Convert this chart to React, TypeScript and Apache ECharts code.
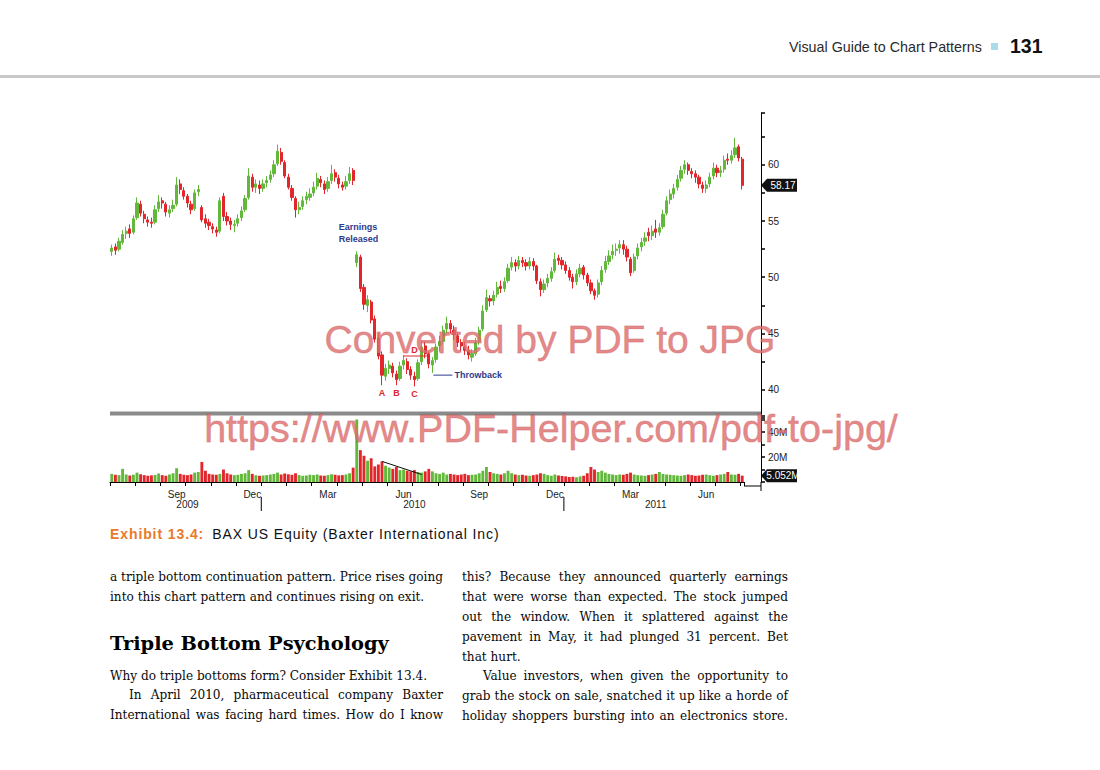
import React, { useEffect, useRef } from "react";
import * as echarts from "echarts";

// ---------- chart data ----------
// one candle per ~3 trading days, 7 candles per month, Jul 2009 .. early Aug 2011
const monthKeys = [
  "2009-07", "2009-08", "2009-09", "2009-10", "2009-11", "2009-12",
  "2010-01", "2010-02", "2010-03", "2010-04", "2010-05", "2010-06",
  "2010-07", "2010-08", "2010-09", "2010-10", "2010-11", "2010-12",
  "2011-01", "2011-02", "2011-03", "2011-04", "2011-05", "2011-06",
  "2011-07", "2011-08",
];
const monthShort = ["Jan", "Feb", "Mar", "Apr", "May", "Jun", "Jul", "Aug", "Sep", "Oct", "Nov", "Dec"];
const labelledMonths = ["Sep", "Dec", "Mar", "Jun"];
const CANDLES_PER_MONTH = 7;

// [open, close, low, high]
const ohlc2009 = [
  [52.3, 52.6, 51.9, 52.9], [52.7, 52.4, 52.0, 53.0], [52.5, 53.2, 52.3, 53.5], [53.1, 53.8, 52.9, 54.2],
  [53.9, 54.1, 53.4, 54.5], [54.3, 53.9, 53.5, 54.7], [54.0, 55.2, 53.8, 55.5], [55.3, 56.6, 55.1, 57.1],
  [56.5, 55.7, 55.4, 56.8], [55.6, 55.2, 54.8, 55.9], [55.1, 54.9, 54.5, 55.4], [54.9, 54.8, 54.4, 55.3],
  [54.9, 56.0, 54.7, 56.4], [56.1, 56.7, 55.8, 57.3], [56.8, 56.6, 56.1, 57.1], [56.5, 55.8, 55.4, 56.7],
  [55.7, 56.0, 55.3, 56.4], [56.1, 56.4, 55.8, 56.9], [56.5, 58.2, 56.3, 58.9], [58.3, 57.8, 57.4, 58.7],
  [57.7, 57.2, 56.9, 58.0], [57.2, 56.6, 56.2, 57.4], [56.5, 56.0, 55.6, 56.8], [56.1, 57.5, 55.9, 57.8],
  [57.6, 57.8, 57.2, 58.2], [56.2, 55.1, 54.9, 56.4], [55.2, 54.8, 54.4, 55.6], [54.9, 54.6, 54.2, 55.2],
  [54.5, 54.3, 53.9, 54.8], [54.2, 54.0, 53.6, 54.5], [54.1, 56.8, 53.9, 57.1], [57.2, 55.4, 55.0, 57.5],
  [55.4, 55.0, 54.6, 55.8], [55.0, 54.7, 54.2, 55.3], [54.6, 54.7, 54.0, 55.1], [54.8, 55.2, 54.5, 55.6],
  [55.3, 55.9, 55.0, 56.3], [56.0, 57.0, 55.8, 57.3], [57.1, 59.0, 56.9, 59.7], [58.9, 58.0, 57.6, 59.2],
  [58.0, 58.3, 57.5, 58.7], [58.2, 57.9, 57.4, 58.6],
];
const ohlc2010 = [
  [57.9, 58.3, 57.6, 58.7], [58.4, 58.6, 58.0, 59.0], [58.7, 59.1, 58.4, 59.5], [59.2, 60.0, 58.9, 60.4],
  [60.1, 61.2, 59.9, 61.8], [61.1, 60.3, 60.0, 61.5], [60.2, 59.0, 58.8, 60.4], [58.9, 58.0, 57.8, 59.2],
  [57.9, 57.1, 56.8, 58.2], [57.0, 56.0, 55.3, 57.2], [56.0, 56.2, 55.6, 56.7], [56.3, 56.8, 56.0, 57.2],
  [56.9, 57.2, 56.5, 57.6], [57.1, 57.4, 56.8, 57.9], [57.5, 58.0, 57.2, 58.5], [58.1, 58.8, 57.8, 59.3],
  [58.7, 58.4, 58.0, 59.0], [58.3, 57.8, 57.4, 58.6], [57.9, 58.5, 57.6, 58.9], [58.6, 59.2, 58.3, 60.0],
  [59.3, 58.9, 58.5, 59.6], [58.8, 58.3, 57.9, 59.1], [58.2, 58.0, 57.7, 58.5], [58.1, 58.5, 57.8, 59.0],
  [58.6, 59.2, 58.3, 59.8], [59.5, 58.6, 58.2, 59.7], [51.3, 52.0, 50.9, 52.3], [51.8, 49.0, 48.7, 52.0],
  [49.1, 47.6, 47.1, 49.4], [47.5, 48.0, 46.9, 48.4], [47.8, 46.2, 45.9, 48.0], [46.3, 44.5, 44.2, 46.6],
  [44.6, 43.0, 42.7, 45.0], [43.1, 41.3, 40.4, 43.4], [41.2, 41.9, 40.8, 42.3], [41.9, 42.2, 41.4, 42.6],
  [42.1, 41.5, 41.1, 42.4], [41.4, 40.9, 40.4, 41.7], [41.0, 42.1, 40.8, 42.5], [42.2, 42.6, 41.8, 43.1],
  [42.5, 41.8, 41.4, 42.8], [41.8, 41.3, 40.9, 42.1], [41.2, 40.9, 40.3, 41.6], [41.0, 42.4, 40.8, 42.7],
  [42.5, 43.8, 42.2, 44.4], [43.9, 43.2, 42.8, 44.3], [43.2, 42.3, 41.9, 43.4], [42.2, 42.6, 41.5, 42.9],
  [42.7, 43.8, 42.4, 44.1], [43.9, 44.3, 43.4, 44.8], [44.3, 45.3, 44.0, 45.7], [45.4, 45.9, 45.0, 46.5],
  [45.9, 45.4, 45.0, 46.2], [45.3, 44.9, 44.4, 45.7], [44.8, 44.2, 43.8, 45.1], [44.2, 43.9, 43.4, 44.5],
  [43.8, 43.5, 43.1, 44.3], [43.5, 43.1, 42.7, 43.9], [42.9, 43.2, 42.5, 43.6], [43.2, 44.2, 43.0, 44.6],
  [44.3, 45.3, 44.0, 45.6], [45.4, 47.0, 45.2, 47.5], [47.1, 48.2, 46.9, 48.9], [48.1, 47.9, 47.4, 48.4],
  [47.9, 48.4, 47.5, 48.8], [48.5, 49.1, 48.2, 49.6], [49.2, 49.0, 48.6, 49.7], [49.0, 49.6, 48.7, 50.0],
  [49.7, 50.8, 49.5, 51.2], [50.9, 51.3, 50.6, 51.8], [51.3, 51.0, 50.5, 51.6], [51.0, 51.5, 50.7, 51.9],
  [51.5, 51.3, 50.9, 51.8], [51.3, 51.0, 50.6, 51.6], [51.0, 51.4, 50.7, 51.8], [51.4, 51.0, 50.6, 51.7],
  [51.0, 49.7, 49.4, 51.1], [49.6, 48.9, 48.3, 49.9], [48.9, 49.4, 48.6, 49.8], [49.5, 49.9, 49.1, 50.3],
  [49.9, 50.5, 49.6, 50.9], [50.6, 51.6, 50.4, 52.2], [51.7, 51.5, 51.1, 52.0], [51.5, 51.1, 50.7, 51.8],
];
const ohlc2011 = [
  [51.1, 50.6, 50.3, 51.4], [50.6, 50.0, 49.7, 50.9], [50.0, 49.6, 49.0, 50.3], [49.6, 50.3, 49.3, 50.7],
  [50.3, 50.8, 50.0, 51.2], [50.9, 50.2, 49.8, 51.1], [50.2, 49.5, 49.2, 50.4], [49.5, 48.8, 48.5, 49.8],
  [48.8, 48.4, 48.0, 49.0], [48.5, 49.5, 48.2, 49.8], [49.6, 50.6, 49.3, 51.0], [50.7, 51.4, 50.4, 51.9],
  [51.4, 51.9, 51.1, 52.4], [52.0, 52.3, 51.6, 52.9], [52.4, 52.5, 51.9, 53.0], [52.6, 52.9, 52.1, 53.3],
  [52.9, 52.5, 52.0, 53.3], [52.5, 51.8, 51.4, 52.8], [51.6, 50.4, 50.1, 51.8], [50.6, 51.8, 50.4, 52.1],
  [51.9, 52.6, 51.6, 53.0], [52.7, 53.1, 52.3, 53.5], [53.2, 53.5, 52.8, 54.0], [54.0, 53.7, 53.2, 54.4],
  [53.7, 54.1, 53.3, 54.6], [54.3, 54.0, 53.5, 55.1], [54.0, 54.4, 53.7, 54.8], [54.5, 55.6, 54.3, 56.0],
  [55.7, 56.8, 55.5, 57.2], [56.9, 57.4, 56.5, 57.8], [57.4, 57.9, 57.0, 58.3], [58.0, 58.7, 57.7, 59.1],
  [58.8, 59.5, 58.5, 59.9], [59.6, 60.0, 59.2, 60.4], [60.0, 59.5, 59.1, 60.2], [59.4, 59.2, 58.8, 59.7],
  [59.2, 58.9, 58.4, 59.5], [58.9, 58.3, 57.9, 59.1], [58.2, 57.9, 57.5, 58.5], [57.9, 58.2, 57.5, 58.6],
  [58.3, 58.9, 58.0, 59.3], [59.0, 59.7, 58.7, 60.2], [59.7, 59.3, 58.9, 60.0], [59.3, 59.5, 58.9, 59.9],
  [59.6, 60.4, 59.3, 60.8], [60.5, 60.4, 60.0, 61.0], [60.4, 60.8, 60.1, 61.3], [60.9, 61.5, 60.6, 62.4],
  [61.6, 60.6, 60.3, 61.8], [60.5, 58.17, 57.8, 60.7],
];

// volume, millions of shares
const vol2009 = [
  6.5, 5.8, 5.5, 10.5, 6.0, 5.2, 5.8, 7.5, 6.2, 5.5, 5.0, 5.3, 5.6, 6.8, 5.5, 5.0, 6.0, 7.0, 11.0, 6.5, 5.8,
  5.5, 6.0, 7.5, 8.0, 16.0, 9.0, 6.5, 6.0, 5.8, 6.5, 10.0, 7.0, 6.0, 5.5, 5.8, 6.5, 7.0, 9.5, 6.5, 5.5, 5.0,
];
const vol2010 = [
  5.2, 5.5, 6.0, 6.5, 7.5, 6.0, 6.8, 6.2, 5.8, 7.0,
  5.5, 5.0, 5.2, 5.8, 5.5, 6.0, 5.2, 5.0, 5.5, 6.2,
  5.8, 5.3, 5.5, 6.0, 7.0, 11.5, 50.0, 25.5, 21.0, 17.0,
  19.0, 12.5, 14.0, 16.5, 13.0, 11.5, 10.5, 12.0, 9.5, 10.0,
  9.0, 8.5, 9.5, 8.0, 7.5, 8.5, 10.5, 8.5, 7.0, 6.5,
  7.5, 6.0, 6.5, 6.0, 5.5, 6.0, 6.5, 5.5, 5.8, 6.0,
  7.0, 9.0, 12.0, 8.0, 7.0, 6.5, 6.0, 7.0, 9.0, 7.0,
  6.0, 5.5, 5.8, 5.2, 5.0, 5.5, 6.0, 7.0, 6.5, 5.5,
  5.0, 6.0, 5.2, 4.8,
];
const vol2011 = [
  4.5, 4.0, 4.2, 3.8, 4.5, 5.0, 7.0, 12.0, 10.0, 8.0,
  9.0, 7.5, 6.5, 6.0, 5.5, 6.0, 5.8, 6.5, 7.5, 6.0,
  5.5, 5.2, 5.0, 5.5, 6.0, 6.5, 8.0, 6.5, 6.0, 5.8,
  5.5, 5.2, 5.0, 5.5, 6.0, 5.5, 5.0, 5.2, 5.8, 6.0,
  5.5, 5.0, 5.5, 6.0, 6.5, 8.0, 6.0, 5.8, 6.5, 5.052,
];

const lastPrice = 58.17;
const lastVolumeLabel = "5.052M";
const priceLabels = [40, 45, 50, 55, 60];
const volumeLabels = [20, 40];

// ---------- page text ----------
const headerTitle = "Visual Guide to Chart Patterns";
const pageNumber = "131";
const captionLabel = "Exhibit 13.4:";
const captionText = "BAX US Equity (Baxter International Inc)";
const heading = "Triple Bottom Psychology";
const leftLines = [
  "a triple bottom continuation pattern. Price rises going",
  "into this chart pattern and continues rising on exit.",
];
const leftLines2 = [
  "Why do triple bottoms form? Consider Exhibit 13.4.",
  "In April 2010, pharmaceutical company Baxter",
  "International was facing hard times. How do I know",
];
const rightLines = [
  "this? Because they announced quarterly earnings",
  "that were worse than expected. The stock jumped",
  "out the window. When it splattered against the",
  "pavement in May, it had plunged 31 percent. Bet",
  "that hurt.",
  "Value investors, when given the opportunity to",
  "grab the stock on sale, snatched it up like a horde of",
  "holiday shoppers bursting into an electronics store.",
];

const GREEN = "#62b83a";
const RED = "#e2262b";
const NAVY = "#2d3a8c";
const ANN_RED = "#e0262c";
const SANS = "Liberation Sans, Arial, sans-serif";
const SERIF = "DejaVu Serif, serif";

type Line = { text: string; x: number; y: number; w: number; justify: boolean; indent?: number };

const bodyLayout: Line[] = [
  { text: leftLines[0], x: 110, y: 577, w: 333, justify: true },
  { text: leftLines[1], x: 110, y: 597, w: 333, justify: false },
  { text: leftLines2[0], x: 110, y: 676, w: 333, justify: false },
  { text: leftLines2[1], x: 110, y: 695, w: 333, justify: true, indent: 19 },
  { text: leftLines2[2], x: 110, y: 715, w: 333, justify: true },
  { text: rightLines[0], x: 462, y: 577, w: 326, justify: true },
  { text: rightLines[1], x: 462, y: 597, w: 326, justify: true },
  { text: rightLines[2], x: 462, y: 617, w: 326, justify: true },
  { text: rightLines[3], x: 462, y: 637, w: 326, justify: true },
  { text: rightLines[4], x: 462, y: 657, w: 326, justify: false },
  { text: rightLines[5], x: 462, y: 676, w: 326, justify: true, indent: 21 },
  { text: rightLines[6], x: 462, y: 696, w: 326, justify: true },
  { text: rightLines[7], x: 462, y: 716, w: 326, justify: true },
];

export default function App() {
  const ref = useRef<HTMLDivElement>(null);

  useEffect(() => {
    document.body.style.margin = "0";
    if (!ref.current) return;
    const chart = echarts.init(ref.current, undefined, { renderer: "svg" });

    const ohlc = [...ohlc2009, ...ohlc2010, ...ohlc2011];
    const volumes = [...vol2009, ...vol2010, ...vol2011];
    const categories = ohlc.map((_, i) => monthKeys[Math.floor(i / CANDLES_PER_MONTH)] + "#" + (i % CANDLES_PER_MONTH));
    const monthOf = (i: number) => monthKeys[Math.floor(i / CANDLES_PER_MONTH)];
    const monthName = (i: number) => monthShort[parseInt(monthOf(i).slice(5), 10) - 1];
    const yearOf = (i: number) => monthOf(i).slice(0, 4);

    // year label at the centre of each year's visible span
    const yearCentres: Record<number, string> = {};
    const years = Array.from(new Set(ohlc.map((_, i) => yearOf(i))));
    years.forEach((y) => {
      const idx = ohlc.map((_, i) => i).filter((i) => yearOf(i) === y);
      yearCentres[Math.round((idx[0] + idx[idx.length - 1]) / 2)] = y;
    });

    const volumeData = volumes.map((v, i) => ({
      value: v,
      itemStyle: { color: ohlc[i][1] >= ohlc[i][0] ? GREEN : RED },
    }));

    const axisFont = { color: "#222", fontSize: 10, fontFamily: SANS };

    chart.setOption({
      animation: false,
      backgroundColor: "transparent",
      grid: [
        { left: 110, top: 113, width: 634, height: (64.6 - 37.5) * 11.25 },
        { left: 110, top: 416, width: 634, height: 66 },
      ],
      xAxis: [
        { type: "category", gridIndex: 0, data: categories, show: false },
        {
          type: "category",
          gridIndex: 1,
          position: "bottom",
          data: categories,
          offset: 4,
          axisLine: { show: true, lineStyle: { color: "#000", width: 1 } },
          axisTick: {
            show: true,
            interval: (i: number) => i % CANDLES_PER_MONTH === 0,
            length: 4,
            lineStyle: { color: "#000" },
          },
          axisLabel: {
            interval: (i: number) => i % CANDLES_PER_MONTH === 4 && labelledMonths.includes(monthName(i)),
            formatter: (_v: string, i: number) => monthName(i),
            margin: 3,
            ...axisFont,
          },
        },
        {
          type: "category",
          gridIndex: 1,
          position: "bottom",
          data: categories,
          offset: 15,
          axisLine: { show: true, lineStyle: { color: "#000", opacity: 0 } },
          axisTick: { show: false },
          axisLabel: {
            interval: (i: number) => yearCentres[i] !== undefined,
            formatter: (_v: string, i: number) => yearCentres[i] || "",
            margin: 2,
            ...axisFont,
          },
        },
      ],
      yAxis: [
        {
          type: "value",
          gridIndex: 0,
          position: "right",
          offset: 17,
          min: 37.5,
          max: 64.6,
          interval: 2.5,
          splitLine: { show: false },
          axisLine: { show: true, lineStyle: { color: "#000" } },
          axisTick: { show: true, length: 4, lineStyle: { color: "#000", width: 1.5 } },
          axisLabel: {
            formatter: (v: number) => (priceLabels.includes(v) ? String(v) : ""),
            margin: 7,
            ...axisFont,
          },
        },
        {
          type: "value",
          gridIndex: 1,
          position: "right",
          offset: 17,
          min: 0,
          max: 52.8,
          interval: 10,
          splitLine: { show: false },
          axisLine: { show: true, lineStyle: { color: "#000" } },
          axisTick: { show: true, length: 4, lineStyle: { color: "#000", width: 1.5 } },
          axisLabel: {
            formatter: (v: number) => (volumeLabels.includes(v) ? v + "M" : ""),
            margin: 7,
            ...axisFont,
          },
        },
      ],
      series: [
        {
          type: "candlestick",
          xAxisIndex: 0,
          yAxisIndex: 0,
          data: ohlc,
          barWidth: "75%",
          itemStyle: { color: GREEN, color0: RED, borderColor: GREEN, borderColor0: RED, borderWidth: 1 },
        },
        {
          type: "bar",
          xAxisIndex: 1,
          yAxisIndex: 1,
          data: volumeData,
          barWidth: "80%",
        },
      ],
    });

    const P = (i: number, v: number) => chart.convertToPixel({ seriesIndex: 0 }, [i, v]) as number[];
    const V = (i: number, v: number) => chart.convertToPixel({ seriesIndex: 1 }, [i, v]) as number[];
    const last = ohlc.length - 1;
    const lowOf = (i: number) => ohlc[i][2];

    const annText = (x: number, y: number, text: string, fill: string, align = "center") => ({
      type: "text",
      x,
      y,
      z: 50,
      style: {
        text,
        fill,
        fontFamily: SANS,
        fontWeight: "bold",
        fontSize: 9,
        textAlign: align,
        textVerticalAlign: "middle",
      },
    });

    const tag = (y: number, text: string, w: number) => ({
      type: "group",
      z: 60,
      children: [
        {
          type: "polygon",
          shape: { points: [[761, y], [767, y - 6.5], [761 + w, y - 6.5], [761 + w, y + 6.5], [767, y + 6.5]] },
          style: { fill: "#111" },
        },
        {
          type: "text",
          x: 765 + w / 2,
          y,
          style: { text, fill: "#fff", fontFamily: SANS, fontSize: 10, textAlign: "center", textVerticalAlign: "middle" },
        },
      ],
    });

    const earn1 = P(63, 54.5);
    const earn2 = P(63, 53.4);
    const pA = P(75, lowOf(75));
    const pB = P(79, lowOf(79));
    const pC = P(84, lowOf(84));
    const pD = P(84, 43.55);
    const dL = P(81, 43.0);
    const dR = P(88, 43.0);
    const tb = P(89, 41.3);
    const vt1 = V(75, 16.5);
    const vt2 = V(86, 6.0);
    const priceTagY = P(last, lastPrice)[1];
    const volTagY = V(last, volumes[last])[1];

    // year separators (below the month labels), at the first candle of each new year
    const yearSeps = ohlc
      .map((_, i) => i)
      .filter((i) => i > 0 && i % CANDLES_PER_MONTH === 0 && monthOf(i).endsWith("-01"))
      .map((i) => {
        const x = (P(i - 1, 50)[0] + P(i, 50)[0]) / 2;
        return { type: "line", shape: { x1: x, y1: 497, x2: x, y2: 511 }, style: { stroke: "#000", lineWidth: 1 } };
      });

    chart.setOption({
      graphic: [
        // page header
        { type: "text", x: 789, y: 47, style: { text: headerTitle, fill: "#2a2a2a", fontFamily: SANS, fontSize: 14.3, textVerticalAlign: "middle" } },
        { type: "rect", shape: { x: 991, y: 43, width: 7, height: 7 }, style: { fill: "#a9dbea" } },
        { type: "text", x: 1010, y: 46, style: { text: pageNumber, fill: "#111", fontFamily: SANS, fontWeight: "bold", fontSize: 19.5, textVerticalAlign: "middle" } },
        { type: "rect", shape: { x: 0, y: 75, width: 1100, height: 3 }, style: { fill: "#c8c8c8" } },
        // pane separator and axis extensions
        { type: "rect", z: 40, shape: { x: 110, y: 411.5, width: 651, height: 4 }, style: { fill: "#8a8a8a" } },
        { type: "line", shape: { x1: 761, y1: 482, x2: 761, y2: 491 }, style: { stroke: "#000", lineWidth: 1 } },
        { type: "line", shape: { x1: 744, y1: 486, x2: 761, y2: 486 }, style: { stroke: "#000", lineWidth: 1 } },
        ...yearSeps,
        // annotations
        annText(earn1[0], earn1[1], "Earnings", NAVY, "left"),
        annText(earn2[0], earn2[1], "Released", NAVY, "left"),
        annText(pA[0], pA[1] + 8, "A", ANN_RED),
        annText(pB[0], pB[1] + 8, "B", ANN_RED),
        annText(pC[0], pC[1] + 8, "C", ANN_RED),
        annText(pD[0], pD[1], "D", ANN_RED),
        { type: "line", z: 50, shape: { x1: dL[0], y1: dL[1], x2: dR[0], y2: dR[1] }, style: { stroke: ANN_RED, lineWidth: 1 } },
        { type: "line", z: 50, shape: { x1: tb[0] + 1, y1: tb[1], x2: tb[0] + 20, y2: tb[1] }, style: { stroke: NAVY, lineWidth: 1 } },
        annText(tb[0] + 22, tb[1], "Throwback", NAVY, "left"),
        { type: "line", z: 50, shape: { x1: vt1[0], y1: vt1[1], x2: vt2[0], y2: vt2[1] }, style: { stroke: "#111", lineWidth: 1 } },
        tag(priceTagY, lastPrice.toFixed(2), 36),
        tag(volTagY, lastVolumeLabel, 36),
        // watermark
        {
          type: "text", x: 550, y: 339, z: 100,
          style: { text: "Converted by PDF to JPG", fill: "rgba(222,110,110,0.82)", stroke: "rgba(170,40,40,0.35)", lineWidth: 0.8, fontFamily: SANS, fontSize: 39, textAlign: "center", textVerticalAlign: "middle" },
        },
        {
          type: "text", x: 551, y: 428, z: 100,
          style: { text: "https://www.PDF-Helper.com/pdf-to-jpg/", fill: "rgba(222,110,110,0.82)", stroke: "rgba(170,40,40,0.35)", lineWidth: 0.8, fontFamily: SANS, fontSize: 39.5, textAlign: "center", textVerticalAlign: "middle" },
        },
      ],
    });

    return () => chart.dispose();
  }, []);

  return (
    <div style={{ position: "fixed", left: 0, top: 0, width: 1100, height: 770, background: "#fff", overflow: "hidden" }}>
      <div ref={ref} style={{ position: "absolute", left: 0, top: 0, width: 1100, height: 770 }} />
      <div
        style={{
          position: "absolute",
          left: 110,
          top: 524,
          height: 20,
          lineHeight: "20px",
          fontFamily: SANS,
          fontSize: 14,
          letterSpacing: 0.9,
          color: "#111",
          whiteSpace: "nowrap",
        }}
      >
        <span style={{ color: "#e8792a", fontWeight: "bold" }}>{captionLabel}</span>
        <span style={{ marginLeft: 8 }}>{captionText}</span>
      </div>
      <div
        style={{
          position: "absolute",
          left: 110,
          top: 631,
          height: 26,
          lineHeight: "26px",
          fontFamily: SERIF,
          fontWeight: "bold",
          fontSize: 19.4,
          color: "#000",
          whiteSpace: "nowrap",
        }}
      >
        {heading}
      </div>
      {bodyLayout.map((l, k) => (
        <div
          key={k}
          style={{
            position: "absolute",
            left: l.x,
            top: l.y - 10,
            width: l.w,
            height: 20,
            lineHeight: "20px",
            fontFamily: SERIF,
            fontSize: 12.1,
            color: "#0a0a0a",
            textAlign: l.justify ? "justify" : "left",
            textAlignLast: l.justify ? "justify" : "left",
            textIndent: l.indent || 0,
            overflow: "visible",
          }}
        >
          {l.text}
        </div>
      ))}
    </div>
  );
}
